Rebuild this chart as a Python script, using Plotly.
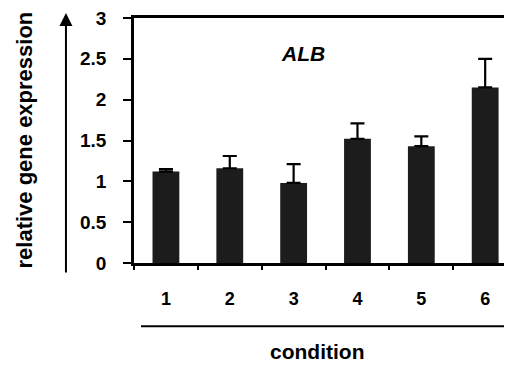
import plotly.graph_objects as go

conditions = [1, 2, 3, 4, 5, 6]
expression = [1.12, 1.16, 0.98, 1.52, 1.43, 2.15]
error_up = [0.03, 0.15, 0.23, 0.19, 0.12, 0.35]
y_ticks = [0, 0.5, 1, 1.5, 2, 2.5, 3]
y_tick_labels = ["0", "0.5", "1", "1.5", "2", "2.5", "3"]
x_sep_ticks = [0.5, 1.5, 2.5, 3.5, 4.5, 5.5, 6.5]

FONT = "Liberation Sans, Arial, sans-serif"

fig = go.Figure()
fig.add_trace(go.Bar(
    x=conditions, y=expression, width=0.42,
    marker=dict(color="#1c1c1c", line=dict(width=0)),
    error_y=dict(type="data", symmetric=False, array=error_up,
                 arrayminus=[0] * len(error_up), color="black",
                 thickness=2.2, width=7),
    showlegend=False,
))
# invisible trace on overlay axis for separator ticks
fig.add_trace(go.Scatter(x=[1], y=[0], xaxis="x2", mode="markers",
                         marker=dict(opacity=0), showlegend=False,
                         hoverinfo="skip"))

xr = [0.5, 6.42]
fig.update_layout(
    width=504, height=357,
    margin=dict(l=126, r=0, t=7, b=102),
    paper_bgcolor="white", plot_bgcolor="white",
    font=dict(family=FONT, color="black", weight="bold"),
    xaxis=dict(range=xr, tickvals=conditions,
               ticktext=[str(c) for c in conditions],
               ticks="outside", ticklen=18, tickcolor="rgba(0,0,0,0)",
               tickfont=dict(size=18, family=FONT, weight="bold"),
               showline=True, linecolor="black", linewidth=2.6, mirror=True,
               showgrid=False, zeroline=False, fixedrange=True),
    xaxis2=dict(range=xr, overlaying="x", side="bottom", tickvals=x_sep_ticks,
                ticks="outside", ticklen=6, tickwidth=2, tickcolor="black",
                showticklabels=False, showline=False, showgrid=False,
                zeroline=False),
    yaxis=dict(range=[0, 3], tickvals=y_ticks, ticktext=y_tick_labels,
               ticks="outside", ticklen=8, tickwidth=2, tickcolor="black",
               ticklabelstandoff=13, ticklabeloverflow="allow",
               tickfont=dict(size=19, family=FONT, weight="bold"),
               showline=True, linecolor="black", linewidth=2.6,
               showgrid=False, zeroline=False),
)

fig.add_annotation(text="relative gene expression", xref="paper", yref="paper",
                   x=0, y=0.5, xshift=-110, xanchor="center", yanchor="middle",
                   textangle=-90, showarrow=False,
                   font=dict(size=22, family=FONT, weight="bold"))
fig.add_annotation(text=" ", xref="paper", yref="paper", x=-0.18, y=1.02,
                   ax=0, ay=262, showarrow=True, arrowhead=2, arrowsize=1.3,
                   arrowwidth=2, arrowcolor="black", standoff=0,
                   font=dict(size=2))
fig.add_annotation(text="<i>ALB</i>", xref="x", yref="y",
                   x=3.14, y=2.57, yanchor="middle", showarrow=False,
                   font=dict(size=21, family=FONT, weight="bold"))
fig.add_annotation(text="condition", xref="paper", yref="paper",
                   x=0.483, y=-0.363, yanchor="middle", showarrow=False,
                   font=dict(size=21, family=FONT, weight="bold"))
fig.add_shape(type="line", xref="paper", yref="paper",
              x0=0.0185, x1=0.981, y0=-0.258, y1=-0.258,
              line=dict(color="black", width=2))

fig.write_html("out.html")
